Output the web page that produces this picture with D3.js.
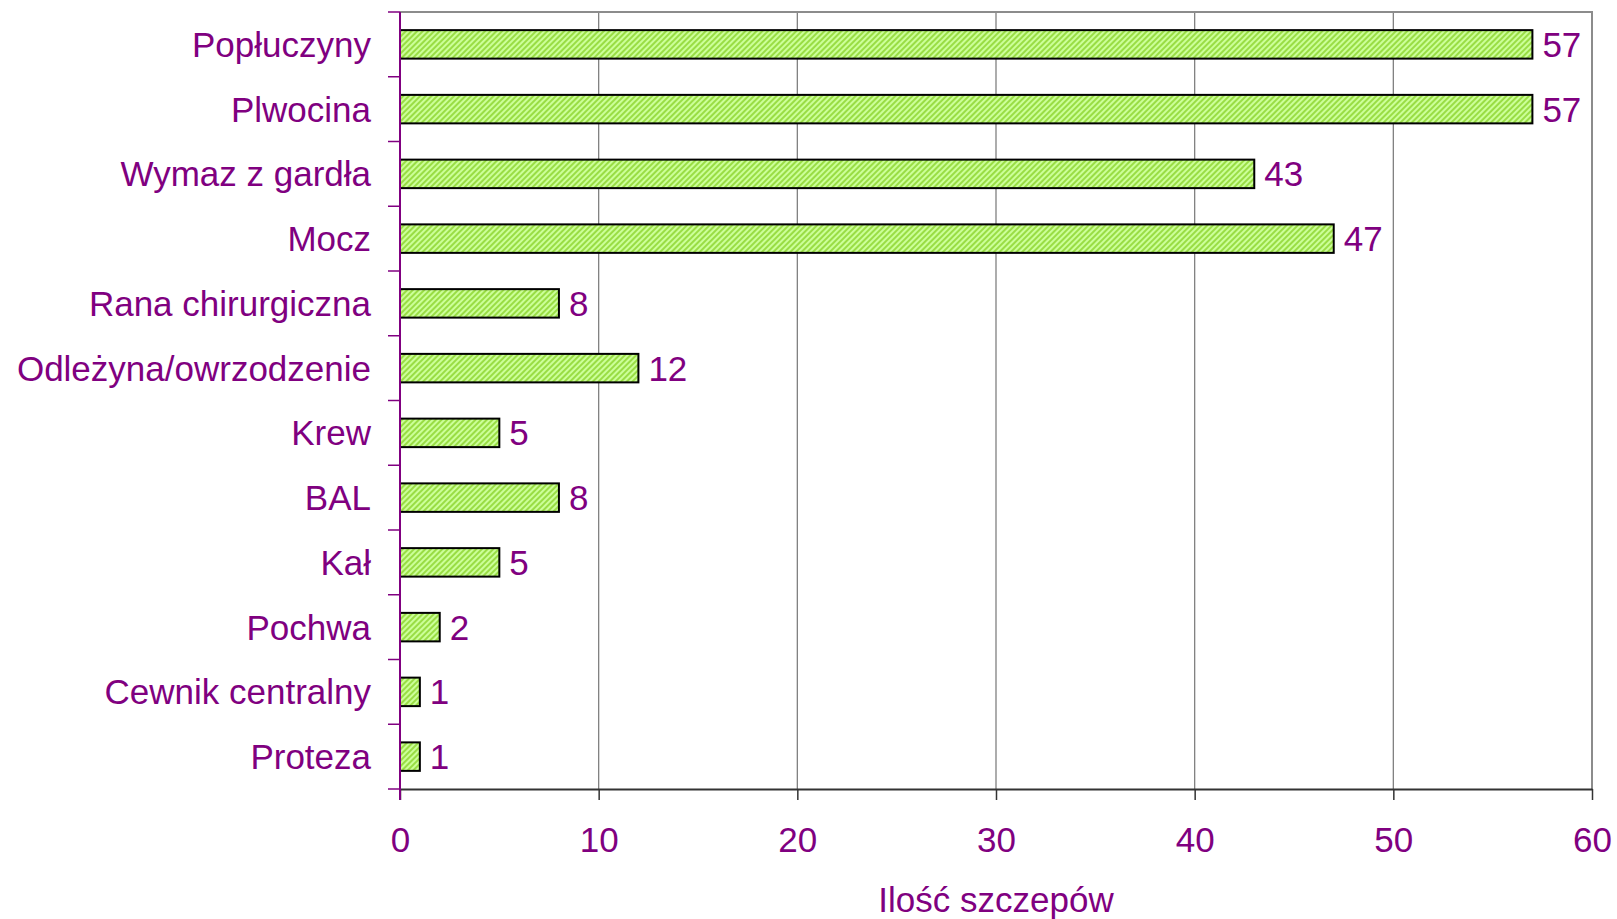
<!DOCTYPE html>
<html>
<head>
<meta charset="utf-8">
<script src="https://cdn.jsdelivr.net/npm/d3@7"></script>
<style>
  html, body { margin: 0; padding: 0; background: #fff; }
  svg { display: block; }
  text { font-family: "Liberation Sans", Arial, sans-serif; fill: #800080; }
</style>
</head>
<body>
<svg id="chart" width="1617" height="919"></svg>
<script>
// Specimen types and strain counts
const categories = [
  "Popłuczyny", "Plwocina", "Wymaz z gardła", "Mocz", "Rana chirurgiczna",
  "Odleżyna/owrzodzenie", "Krew", "BAL", "Kał", "Pochwa",
  "Cewnik centralny", "Proteza"
];
const counts = [57, 57, 43, 47, 8, 12, 5, 8, 5, 2, 1, 1];
const xTicks = [0, 10, 20, 30, 40, 50, 60];
const xTitle = "Ilość szczepów";

const W = 1617, H = 919;
const plot = { left: 400, right: 1592, top: 12, bottom: 789 };
const FS = 35;

const svg = d3.select("#chart");

// Hatched green fill for the bars
const defs = svg.append("defs");
const pat = defs.append("pattern")
  .attr("id", "hatch")
  .attr("patternUnits", "userSpaceOnUse")
  .attr("width", 4).attr("height", 4)
  .attr("patternTransform", "rotate(45)");
pat.append("rect").attr("width", 4).attr("height", 4).attr("fill", "#ccff99");
pat.append("rect").attr("width", 2).attr("height", 4).attr("fill", "#99dd44");

const x = d3.scaleLinear().domain([0, 60]).range([plot.left, plot.right]);
const y = d3.scaleBand().domain(categories).range([plot.top, plot.bottom])
  .paddingInner(0.56).paddingOuter(0.28);

// Vertical gridlines
svg.append("g").selectAll("line").data(xTicks.slice(1)).join("line")
  .attr("x1", d => x(d)).attr("x2", d => x(d))
  .attr("y1", plot.top).attr("y2", plot.bottom)
  .attr("stroke", "#808080").attr("stroke-width", 1.3);

// Plot frame (top and right)
svg.append("path")
  .attr("d", `M${plot.left},${plot.top}H${plot.right}V${plot.bottom}`)
  .attr("fill", "none").attr("stroke", "#8c8c8c").attr("stroke-width", 2);

// Bars
svg.append("g").selectAll("rect").data(categories).join("rect")
  .attr("x", x(0))
  .attr("y", d => y(d))
  .attr("width", (d, i) => x(counts[i]) - x(0))
  .attr("height", y.bandwidth())
  .attr("fill", "url(#hatch)")
  .attr("stroke", "#000").attr("stroke-width", 2);

// Value labels
svg.append("g").selectAll("text").data(categories).join("text")
  .attr("x", (d, i) => x(counts[i]) + 10)
  .attr("y", d => y(d) + y.bandwidth() / 2)
  .attr("dy", "0.36em")
  .attr("font-size", FS)
  .text((d, i) => counts[i]);

// Bottom axis
const xAxis = d3.axisBottom(x).tickValues(xTicks).tickSize(11).tickPadding(27).tickSizeOuter(0);
const gx = svg.append("g").attr("transform", `translate(0,${plot.bottom})`).call(xAxis);
gx.select(".domain").attr("stroke", "#333").attr("stroke-width", 2);
gx.selectAll(".tick line").attr("stroke", "#333").attr("stroke-width", 1.5);
gx.selectAll(".tick text").attr("font-size", FS).attr("fill", "#800080")
  .attr("font-family", "Liberation Sans, Arial, sans-serif");

// Left category axis: purple line with ticks at band boundaries
const gy = svg.append("g");
gy.append("line")
  .attr("x1", plot.left).attr("x2", plot.left)
  .attr("y1", plot.top).attr("y2", plot.bottom + 11)
  .attr("stroke", "#800080").attr("stroke-width", 2);
const bounds = d3.range(categories.length + 1).map(i => plot.top + i * (plot.bottom - plot.top) / categories.length);
gy.selectAll("line.tk").data(bounds).join("line").attr("class", "tk")
  .attr("x1", plot.left - 12).attr("x2", plot.left)
  .attr("y1", d => d).attr("y2", d => d)
  .attr("stroke", "#800080").attr("stroke-width", 1.5);
gy.selectAll("text").data(categories).join("text")
  .attr("x", plot.left - 29)
  .attr("y", d => y(d) + y.bandwidth() / 2)
  .attr("dy", "0.36em")
  .attr("text-anchor", "end")
  .attr("font-size", FS)
  .text(d => d);

// Axis title
svg.append("text")
  .attr("x", (plot.left + plot.right) / 2)
  .attr("y", 912)
  .attr("text-anchor", "middle")
  .attr("font-size", FS)
  .text(xTitle);
</script>
</body>
</html>
